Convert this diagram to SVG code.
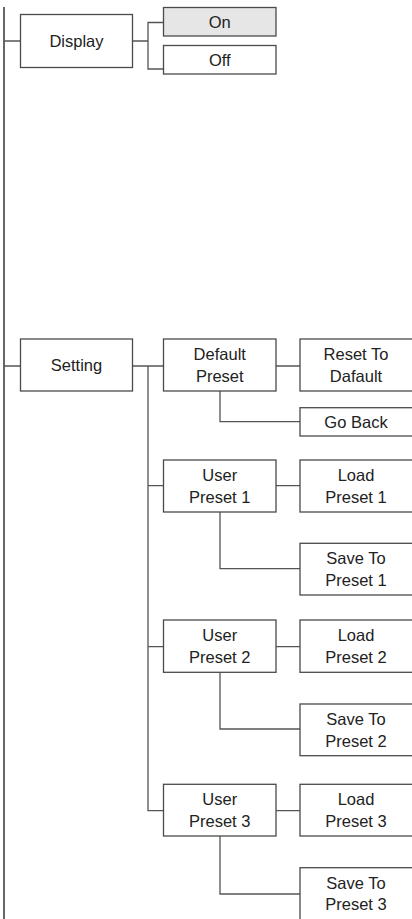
<svg xmlns="http://www.w3.org/2000/svg" width="412" height="919" viewBox="0 0 412 919">
<style>
.b{fill:#fff;stroke:#4a4a4a;stroke-width:1.3}
.on{fill:#e6e6e6;stroke:#4a4a4a;stroke-width:1.3}
.c{fill:none;stroke:#555;stroke-width:1.3}
.m{fill:none;stroke:#333;stroke-width:1.5}
text{font-family:"Liberation Sans",Arial,sans-serif;font-size:16.5px;fill:#222;text-anchor:middle}
</style>
<rect width="412" height="919" fill="#fff"/>
<g id="connectors">
<path class="m" d="M4 7V919"/>
<path class="c" d="M4 41H20.5M132.5 41H148M163.5 22.5H148V69H163.5"/>
<path class="c" d="M4 366H20.5M132.5 366H163.5M148 366V810.7H163.5M148 485.7H163.5M148 646.7H163.5"/>
<path class="c" d="M276 366H300M220 391V421.7H300"/>
<path class="c" d="M276 485.7H300M220 512V568.7H300"/>
<path class="c" d="M276 646.7H300M220 672.3V729H300"/>
<path class="c" d="M276 810.7H300M220 836V894H300"/>
</g>
<g id="display"><rect class="b" x="20.5" y="14.5" width="112" height="53"/><text x="76.5" y="47">Display</text></g>
<g id="on"><rect class="on" x="163.5" y="7.5" width="112.5" height="28.5"/><text x="219.75" y="27.5">On</text></g>
<g id="off"><rect class="b" x="163.5" y="45.5" width="112.5" height="28.5"/><text x="219.75" y="65.5">Off</text></g>
<g id="setting"><rect class="b" x="20.5" y="339" width="112" height="52"/><text x="76.5" y="370.5">Setting</text></g>
<g id="default-preset"><rect class="b" x="163.5" y="339" width="112.5" height="52"/><text x="219.75" y="360">Default</text><text x="219.75" y="381.5">Preset</text></g>
<g id="reset-default"><rect class="b" x="300" y="339" width="120" height="52"/><text x="356" y="360">Reset To</text><text x="356" y="381.5">Dafault</text></g>
<g id="go-back"><rect class="b" x="300" y="407.7" width="120" height="28.3"/><text x="356" y="427.5">Go Back</text></g>
<g id="user-preset-1"><rect class="b" x="163.5" y="460" width="112.5" height="52"/><text x="219.75" y="481">User</text><text x="219.75" y="502.5">Preset 1</text></g>
<g id="load-preset-1"><rect class="b" x="300" y="460" width="120" height="52"/><text x="356" y="481">Load</text><text x="356" y="502.5">Preset 1</text></g>
<g id="save-preset-1"><rect class="b" x="300" y="543.3" width="120" height="51.7"/><text x="356" y="564.3">Save To</text><text x="356" y="585.8">Preset 1</text></g>
<g id="user-preset-2"><rect class="b" x="163.5" y="620" width="112.5" height="52.3"/><text x="219.75" y="641.2">User</text><text x="219.75" y="662.7">Preset 2</text></g>
<g id="load-preset-2"><rect class="b" x="300" y="620" width="120" height="52.3"/><text x="356" y="641.2">Load</text><text x="356" y="662.7">Preset 2</text></g>
<g id="save-preset-2"><rect class="b" x="300" y="704" width="120" height="51.7"/><text x="356" y="725">Save To</text><text x="356" y="746.5">Preset 2</text></g>
<g id="user-preset-3"><rect class="b" x="163.5" y="784.3" width="112.5" height="51.7"/><text x="219.75" y="805.3">User</text><text x="219.75" y="826.8">Preset 3</text></g>
<g id="load-preset-3"><rect class="b" x="300" y="784.3" width="120" height="51.7"/><text x="356" y="805.3">Load</text><text x="356" y="826.8">Preset 3</text></g>
<g id="save-preset-3"><rect class="b" x="300" y="867.7" width="120" height="60"/><text x="356" y="888.7">Save To</text><text x="356" y="910.2">Preset 3</text></g>
</svg>
